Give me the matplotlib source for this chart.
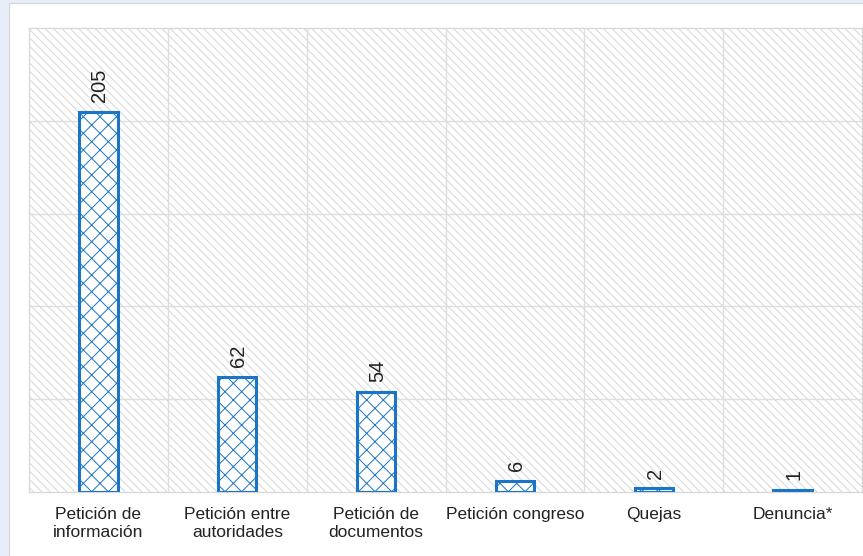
import matplotlib
matplotlib.use("Agg")
import matplotlib.pyplot as plt
from matplotlib.patches import Rectangle

categories = ["Petición de\ninformación", "Petición entre\nautoridades", "Petición de\ndocumentos",
              "Petición congreso", "Quejas", "Denuncia*"]
values = [205, 62, 54, 6, 2, 1]
y_ticks = [0, 50, 100, 150, 200, 250]

W, H = 863, 556
plt.rcParams['hatch.linewidth'] = 0.7
fig = plt.figure(figsize=(W / 100, H / 100), dpi=100)
fig.patch.set_facecolor("#e7eef9")

# white panel
panel = Rectangle((9 / W, -0.01), 1.0, (H - 3) / H + 0.01, transform=fig.transFigure,
                  facecolor="white", edgecolor="#d9d9d9", linewidth=1.0, zorder=-10)
fig.add_artist(panel)

ax = fig.add_axes([29 / W, (H - 492) / H, (862 - 29) / W, (492 - 28) / H])
ax.set_zorder(1)
ax.set_facecolor("white")
ax.set_xlim(-0.5, len(categories) - 0.5)
ax.set_ylim(y_ticks[0], y_ticks[-1])

# diagonal background hatch
bg = Rectangle((0, 0), 1, 1, transform=ax.transAxes, facecolor="none",
               edgecolor="#d6d6d6", hatch="\\\\\\\\", linewidth=0, zorder=0)
ax.add_patch(bg)

# grid
for y in y_ticks[1:-1]:
    ax.axhline(y, color="#dedede", linewidth=1.0, zorder=1)
for i in range(1, len(categories)):
    ax.axvline(i - 0.5, color="#dedede", linewidth=1.0, zorder=1)

for s in ax.spines.values():
    s.set_color("#d9d9d9")
    s.set_linewidth(1.0)

plt.rcParams['hatch.color'] = "#1b75c6"
x = list(range(len(categories)))
bars = ax.bar(x, values, width=0.275, facecolor="white", edgecolor="#1b75c6",
              linewidth=2.2, hatch="xx", zorder=3)

for xi, v in zip(x, values):
    ax.annotate(str(v), (xi, v), xytext=(1, 7), textcoords="offset points",
                rotation=90, ha="center", va="bottom", fontsize=14.5,
                family="Liberation Sans", color="#222222", zorder=4)

ax.set_yticks(y_ticks)
ax.set_yticklabels([])
ax.tick_params(axis="y", length=0)
ax.set_xticks(x)
ax.set_xticklabels(categories, fontsize=12.5, family="Liberation Sans", color="#222222",
                   linespacing=1.2)
ax.tick_params(axis="x", length=0, pad=11)

fig.savefig("out.png", dpi=100, facecolor=fig.get_facecolor())
